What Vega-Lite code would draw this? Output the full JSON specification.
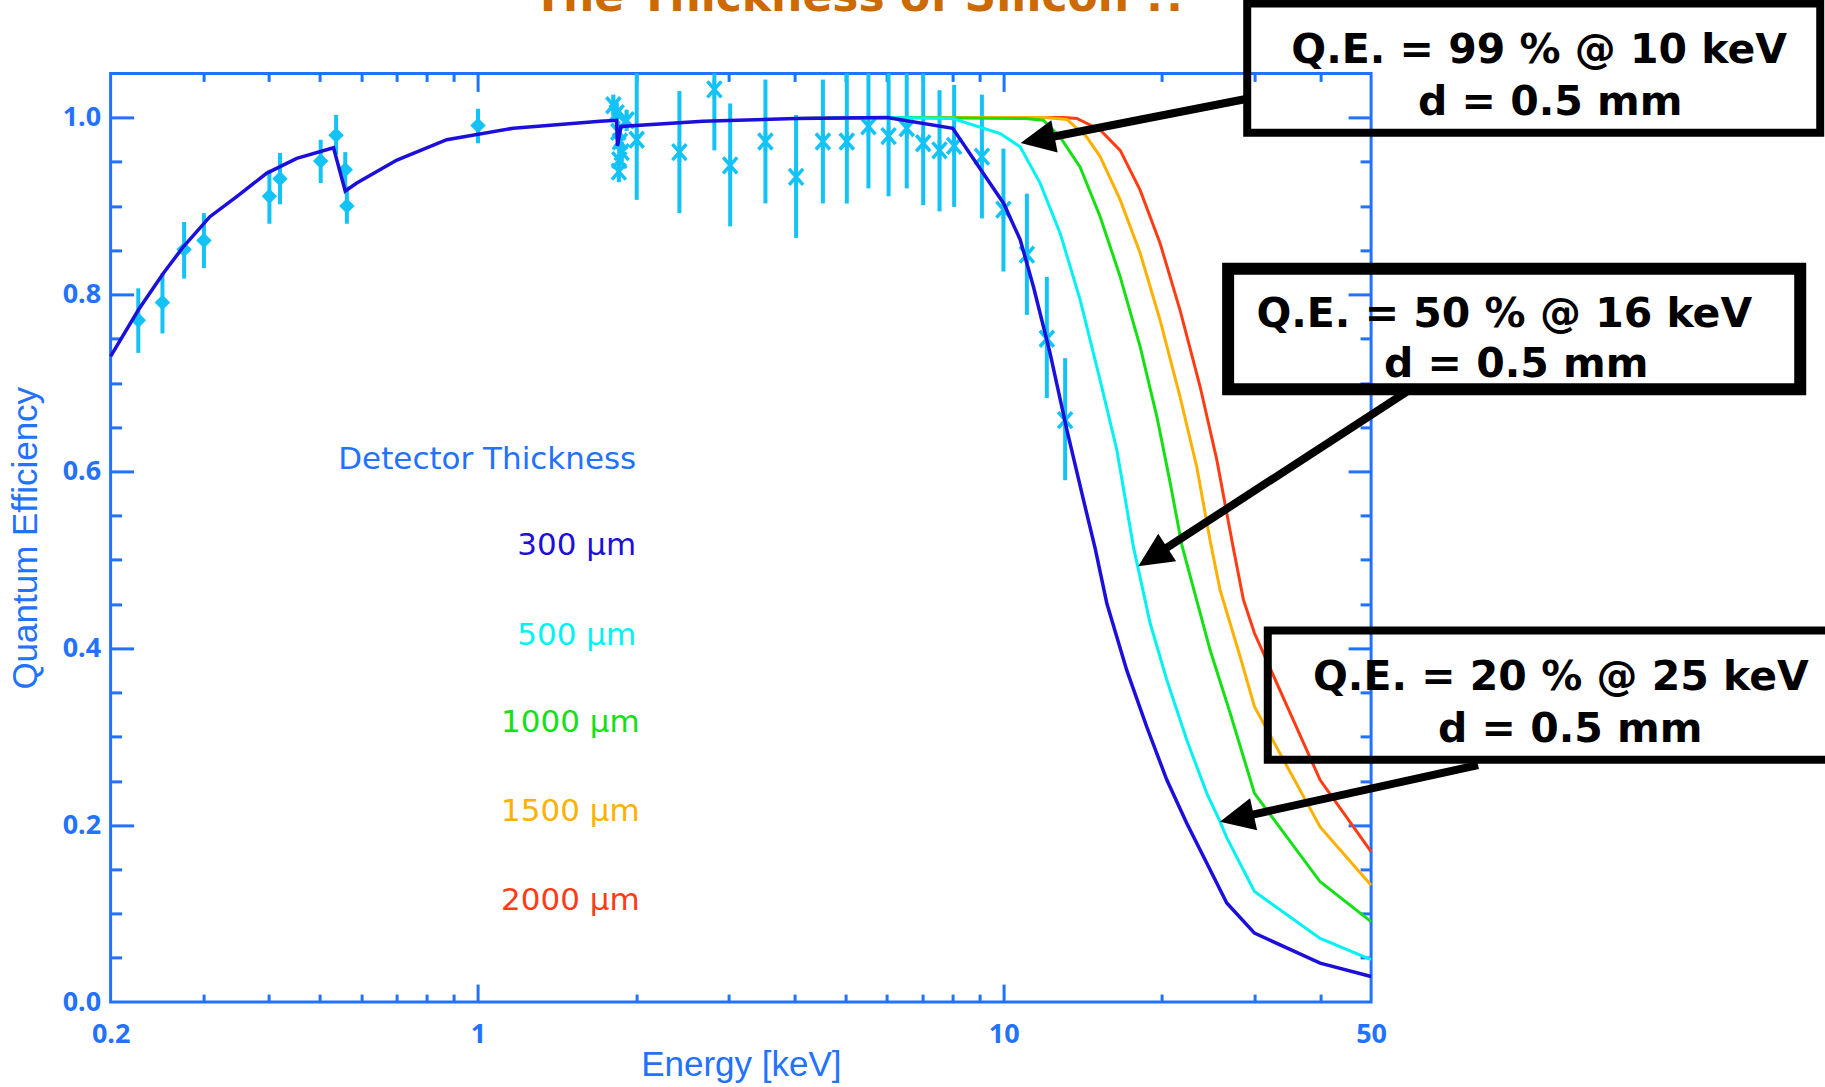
{
  "$schema": "https://vega.github.io/schema/vega-lite/v6.json",
  "width": 1260.5,
  "height": 928.7,
  "autosize": {"type": "none"},
  "padding": {"left": 110.6, "top": 73.4, "right": 454, "bottom": 85},
  "background": "white",
  "config": {
    "view": {"stroke": "#2272ff", "strokeWidth": 3},
    "axis": {
      "grid": false, "domain": false,
      "tickColor": "#2272ff", "tickWidth": 3,
      "labelColor": "#2272ff", "titleColor": "#2272ff",
      "labelFont": "Noto Sans", "labelFontWeight": "bold", "labelFontSize": 27,
      "titleFont": "Liberation Sans", "titleFontSize": 35, "titleFontWeight": "normal",
      "labelFlush": false, "labelOverlap": false, "labelBound": false
    }
  },
  "datasets": {
    "curves": [
      {"t":"300","e":0.2,"q":0.730},{"t":"300","e":0.2258,"q":0.7825},{"t":"300","e":0.252,"q":0.824},{"t":"300","e":0.275,"q":0.854},
      {"t":"300","e":0.309,"q":0.888},{"t":"300","e":0.348,"q":0.911},{"t":"300","e":0.396,"q":0.937},{"t":"300","e":0.452,"q":0.954},
      {"t":"300","e":0.531,"q":0.966},{"t":"300","e":0.559,"q":0.917},{"t":"300","e":0.588,"q":0.926},{"t":"300","e":0.701,"q":0.952},
      {"t":"300","e":0.872,"q":0.975},{"t":"300","e":1.167,"q":0.988},{"t":"300","e":1.707,"q":0.996},{"t":"300","e":1.835,"q":0.997},
      {"t":"300","e":1.842,"q":0.968},{"t":"300","e":1.87,"q":0.990},{"t":"300","e":2.68,"q":0.996},{"t":"300","e":4.03,"q":0.999},
      {"t":"300","e":6.0,"q":1.0},{"t":"300","e":8.0,"q":0.988},{"t":"300","e":10.0,"q":0.903},{"t":"300","e":10.75,"q":0.862},
      {"t":"300","e":11.39,"q":0.809},{"t":"300","e":12.25,"q":0.734},{"t":"300","e":13.19,"q":0.647},{"t":"300","e":14.18,"q":0.568},
      {"t":"300","e":14.93,"q":0.513},{"t":"300","e":15.71,"q":0.451},{"t":"300","e":17.15,"q":0.375},{"t":"300","e":18.72,"q":0.311},
      {"t":"300","e":20.44,"q":0.251},{"t":"300","e":22.31,"q":0.202},{"t":"300","e":24.35,"q":0.157},{"t":"300","e":26.57,"q":0.112},
      {"t":"300","e":30,"q":0.078},{"t":"300","e":40,"q":0.044},{"t":"300","e":50,"q":0.029},

      {"t":"500","e":4.03,"q":0.999},{"t":"500","e":6.0,"q":1.0},{"t":"500","e":8.0,"q":0.999},{"t":"500","e":9.85,"q":0.982},
      {"t":"500","e":10.75,"q":0.967},{"t":"500","e":11.73,"q":0.926},{"t":"500","e":12.81,"q":0.869},{"t":"500","e":13.98,"q":0.794},
      {"t":"500","e":15.26,"q":0.703},{"t":"500","e":16.42,"q":0.624},{"t":"500","e":17.65,"q":0.515},{"t":"500","e":19.0,"q":0.428},
      {"t":"500","e":20.44,"q":0.364},{"t":"500","e":22.31,"q":0.296},{"t":"500","e":24.35,"q":0.236},{"t":"500","e":25.8,"q":0.204},
      {"t":"500","e":26.57,"q":0.186},{"t":"500","e":30,"q":0.125},{"t":"500","e":40,"q":0.072},{"t":"500","e":50,"q":0.048},

      {"t":"1000","e":4.03,"q":0.999},{"t":"1000","e":6.0,"q":1.0},{"t":"1000","e":11.0,"q":0.999},{"t":"1000","e":11.9,"q":0.997},
      {"t":"1000","e":12.81,"q":0.978},{"t":"1000","e":13.98,"q":0.944},{"t":"1000","e":15.26,"q":0.888},{"t":"1000","e":16.66,"q":0.820},
      {"t":"1000","e":18.18,"q":0.741},{"t":"1000","e":19.56,"q":0.662},{"t":"1000","e":20.74,"q":0.587},{"t":"1000","e":21.82,"q":0.517},
      {"t":"1000","e":22.96,"q":0.468},{"t":"1000","e":24.7,"q":0.398},{"t":"1000","e":26.96,"q":0.327},{"t":"1000","e":30,"q":0.236},
      {"t":"1000","e":40,"q":0.136},{"t":"1000","e":50,"q":0.091},

      {"t":"1500","e":4.03,"q":0.999},{"t":"1500","e":6.0,"q":1.0},{"t":"1500","e":12.0,"q":1.0},{"t":"1500","e":13.19,"q":0.998},
      {"t":"1500","e":14.39,"q":0.978},{"t":"1500","e":15.26,"q":0.956},{"t":"1500","e":16.66,"q":0.907},{"t":"1500","e":18.18,"q":0.847},
      {"t":"1500","e":19.84,"q":0.771},{"t":"1500","e":21.66,"q":0.684},{"t":"1500","e":23.3,"q":0.605},{"t":"1500","e":24.7,"q":0.522},
      {"t":"1500","e":25.8,"q":0.466},{"t":"1500","e":28.16,"q":0.391},{"t":"1500","e":30,"q":0.334},{"t":"1500","e":40,"q":0.198},
      {"t":"1500","e":50,"q":0.132},

      {"t":"2000","e":4.03,"q":0.999},{"t":"2000","e":6.0,"q":1.0},{"t":"2000","e":13.0,"q":1.0},{"t":"2000","e":13.78,"q":0.999},
      {"t":"2000","e":15.26,"q":0.986},{"t":"2000","e":16.66,"q":0.963},{"t":"2000","e":18.18,"q":0.918},{"t":"2000","e":19.84,"q":0.858},
      {"t":"2000","e":21.66,"q":0.782},{"t":"2000","e":23.64,"q":0.696},{"t":"2000","e":25.44,"q":0.613},{"t":"2000","e":27.35,"q":0.513},
      {"t":"2000","e":28.58,"q":0.455},{"t":"2000","e":30,"q":0.417},{"t":"2000","e":40,"q":0.251},{"t":"2000","e":50,"q":0.170}
    ],
    "points": [
      {"kind":"d","e":0.2258,"q":0.771,"lo":0.734,"hi":0.807},
      {"kind":"d","e":0.251,"q":0.791,"lo":0.756,"hi":0.824},
      {"kind":"d","e":0.276,"q":0.851,"lo":0.818,"hi":0.882},
      {"kind":"d","e":0.301,"q":0.861,"lo":0.830,"hi":0.892},
      {"kind":"d","e":0.401,"q":0.911,"lo":0.880,"hi":0.941},
      {"kind":"d","e":0.420,"q":0.931,"lo":0.902,"hi":0.960},
      {"kind":"d","e":0.502,"q":0.951,"lo":0.926,"hi":0.975},
      {"kind":"d","e":0.537,"q":0.980,"lo":0.958,"hi":1.003},
      {"kind":"d","e":0.559,"q":0.941,"lo":0.920,"hi":0.961},
      {"kind":"d","e":0.563,"q":0.900,"lo":0.880,"hi":0.922},
      {"kind":"d","e":1.0,"q":0.991,"lo":0.971,"hi":1.010},
      {"kind":"x","e":1.809,"q":1.014,"lo":1.002,"hi":1.026},
      {"kind":"x","e":1.836,"q":1.005,"lo":0.993,"hi":1.017},
      {"kind":"x","e":1.917,"q":0.997,"lo":0.985,"hi":1.009},
      {"kind":"x","e":1.849,"q":0.984,"lo":0.972,"hi":0.996},
      {"kind":"x","e":1.862,"q":0.973,"lo":0.961,"hi":0.985},
      {"kind":"x","e":1.876,"q":0.961,"lo":0.949,"hi":0.973},
      {"kind":"x","e":1.857,"q":0.952,"lo":0.940,"hi":0.964},
      {"kind":"x","e":1.853,"q":0.939,"lo":0.927,"hi":0.951},
      {"kind":"x","e":2.004,"q":0.975,"lo":0.907,"hi":1.05},
      {"kind":"x","e":2.416,"q":0.961,"lo":0.892,"hi":1.030},
      {"kind":"x","e":2.816,"q":1.032,"lo":0.963,"hi":1.05},
      {"kind":"x","e":3.018,"q":0.946,"lo":0.877,"hi":1.016},
      {"kind":"x","e":3.522,"q":0.973,"lo":0.903,"hi":1.043},
      {"kind":"x","e":4.028,"q":0.933,"lo":0.864,"hi":1.003},
      {"kind":"x","e":4.53,"q":0.973,"lo":0.903,"hi":1.043},
      {"kind":"x","e":5.03,"q":0.973,"lo":0.903,"hi":1.05},
      {"kind":"x","e":5.53,"q":0.990,"lo":0.920,"hi":1.05},
      {"kind":"x","e":6.04,"q":0.979,"lo":0.911,"hi":1.05},
      {"kind":"x","e":6.54,"q":0.988,"lo":0.920,"hi":1.05},
      {"kind":"x","e":7.03,"q":0.971,"lo":0.901,"hi":1.05},
      {"kind":"x","e":7.55,"q":0.963,"lo":0.894,"hi":1.031},
      {"kind":"x","e":8.05,"q":0.968,"lo":0.899,"hi":1.037},
      {"kind":"x","e":9.09,"q":0.956,"lo":0.886,"hi":1.026},
      {"kind":"x","e":9.99,"q":0.896,"lo":0.826,"hi":0.965},
      {"kind":"x","e":11.07,"q":0.845,"lo":0.777,"hi":0.914},
      {"kind":"x","e":12.08,"q":0.750,"lo":0.683,"hi":0.820},
      {"kind":"x","e":13.09,"q":0.658,"lo":0.590,"hi":0.728}
    ],
    "legend": [
      {"e":2.0,"q":0.603,"label":"Detector Thickness","t":"head"},
      {"e":2.0,"q":0.505,"label":"300 μm","t":"300"},
      {"e":2.0,"q":0.404,"label":"500 μm","t":"500"},
      {"e":2.03,"q":0.305,"label":"1000 μm","t":"1000"},
      {"e":2.03,"q":0.205,"label":"1500 μm","t":"1500"},
      {"e":2.03,"q":0.104,"label":"2000 μm","t":"2000"}
    ],
    "boxes": [
      {"b":1,"e":29.06,"e2":357.6,"q":1.129,"q2":0.983},
      {"b":2,"e":26.73,"e2":327.6,"q":0.829,"q2":0.693},
      {"b":3,"e":31.8,"e2":381.8,"q":0.420,"q2":0.274}
    ],
    "boxtext": [
      {"e":104.4,"q":1.0614,"label":"Q.E. = 99 % @ 10 keV"},
      {"e":109.6,"q":1.0029,"label":"d = 0.5 mm"},
      {"e":89.6,"q":0.7629,"label":"Q.E. = 50 % @ 16 keV"},
      {"e":94.4,"q":0.7071,"label":"d = 0.5 mm"},
      {"e":114.8,"q":0.3529,"label":"Q.E. = 20 % @ 25 keV"},
      {"e":119.6,"q":0.2944,"label":"d = 0.5 mm"}
    ],
    "arrows": [
      {"a":1,"e":28.9,"q":1.021,"e2":11.6,"q2":0.975},
      {"a":2,"e":58.8,"q":0.691,"e2":19.21,"q2":0.5034},
      {"a":3,"e":79.9,"q":0.268,"e2":27.76,"q2":0.2081}
    ]
  },
  "resolve": {"axis": {"x": "independent", "y": "independent"}},
  "layer": [
    {
      "data": {"name": "points"},
      "mark": {"type": "rule", "strokeWidth": 4, "color": "#14c3f5"},
      "encoding": {
        "x": {"field": "e", "type": "quantitative", "scale": {"type": "log", "domain": [0.2, 50], "nice": false},
              "axis": {"orient": "bottom", "values": [0.2, 1, 10, 50], "format": "~g", "ticks": false, "labelPadding": 19, "title": "Energy [keV]", "titlePadding": 0}},
        "y": {"field": "lo", "type": "quantitative", "scale": {"domain": [0, 1.05], "nice": false, "zero": false},
              "axis": {"orient": "left", "values": [0, 0.2, 0.4, 0.6, 0.8, 1.0], "format": ".1f", "ticks": false, "labelPadding": 10, "title": "Quantum Efficiency", "titlePadding": 19}},
        "y2": {"field": "hi"}
      }
    },
    {
      "data": {"name": "points"},
      "transform": [{"filter": "datum.kind === 'd'"}],
      "mark": {"type": "point", "shape": "diamond", "filled": true, "size": 240, "opacity": 1, "color": "#14c3f5"},
      "encoding": {
        "x": {"field": "e", "type": "quantitative", "scale": {"type": "log", "domain": [0.2, 50], "nice": false},
              "axis": {"orient": "bottom", "values": [0.3, 0.4, 0.5, 0.6, 0.7, 0.8, 0.9, 2, 3, 4, 5, 6, 7, 8, 9, 20, 30, 40], "labels": false, "tickSize": 8, "offset": -8, "title": null}},
        "y": {"field": "q", "type": "quantitative", "scale": {"domain": [0, 1.05], "nice": false, "zero": false},
              "axis": {"orient": "left", "values": [0.05, 0.1, 0.15, 0.25, 0.3, 0.35, 0.45, 0.5, 0.55, 0.65, 0.7, 0.75, 0.85, 0.9, 0.95], "labels": false, "tickSize": 11, "offset": -11, "title": null}}
      }
    },
    {
      "data": {"name": "points"},
      "transform": [{"filter": "datum.kind === 'x'"}],
      "mark": {"type": "point", "shape": "M-0.7,-0.8L0.7,0.8M-0.7,0.8L0.7,-0.8M0,-1L0,1", "filled": false, "size": 400, "strokeWidth": 3.5, "opacity": 1, "color": "#14c3f5"},
      "encoding": {
        "x": {"field": "e", "type": "quantitative", "scale": {"type": "log", "domain": [0.2, 50], "nice": false}, "axis": null},
        "y": {"field": "q", "type": "quantitative", "scale": {"domain": [0, 1.05], "nice": false, "zero": false}, "axis": null}
      }
    },
    {
      "data": {"name": "curves"},
      "transform": [{"filter": "datum.t === '2000'"}],
      "mark": {"type": "line", "strokeWidth": 3},
      "encoding": {
        "x": {"field": "e", "type": "quantitative", "scale": {"type": "log", "domain": [0.2, 50], "nice": false},
              "axis": {"orient": "top", "values": [1, 10], "labels": false, "tickSize": 18, "offset": -18, "title": null}},
        "y": {"field": "q", "type": "quantitative", "scale": {"domain": [0, 1.05], "nice": false, "zero": false},
              "axis": {"orient": "right", "values": [0.2, 0.4, 0.6, 0.8, 1.0], "labels": false, "tickSize": 23, "offset": -23, "title": null}},
        "color": {"field": "t", "type": "nominal", "legend": null,
                  "scale": {"domain": ["head", "300", "500", "1000", "1500", "2000"], "range": ["#2272ff", "#1c0fdc", "#00f2f2", "#14e014", "#ffb000", "#ff3c14"]}}
      }
    },
    {
      "data": {"name": "curves"},
      "transform": [{"filter": "datum.t === '1500'"}],
      "mark": {"type": "line", "strokeWidth": 3},
      "encoding": {
        "x": {"field": "e", "type": "quantitative", "scale": {"type": "log", "domain": [0.2, 50], "nice": false},
              "axis": {"orient": "top", "values": [0.3, 0.4, 0.5, 0.6, 0.7, 0.8, 0.9, 2, 3, 4, 5, 6, 7, 8, 9, 20, 30, 40], "labels": false, "tickSize": 8, "offset": -8, "title": null}},
        "y": {"field": "q", "type": "quantitative", "scale": {"domain": [0, 1.05], "nice": false, "zero": false},
              "axis": {"orient": "right", "values": [0.05, 0.1, 0.15, 0.25, 0.3, 0.35, 0.45, 0.5, 0.55, 0.65, 0.7, 0.75, 0.85, 0.9, 0.95], "labels": false, "tickSize": 11, "offset": -11, "title": null}},
        "color": {"field": "t", "type": "nominal", "legend": null}
      }
    },
    {
      "data": {"name": "curves"},
      "transform": [{"filter": "datum.t === '1000'"}],
      "mark": {"type": "line", "strokeWidth": 3},
      "encoding": {
        "x": {"field": "e", "type": "quantitative", "scale": {"type": "log", "domain": [0.2, 50], "nice": false}, "axis": null},
        "y": {"field": "q", "type": "quantitative", "scale": {"domain": [0, 1.05], "nice": false, "zero": false}, "axis": null},
        "color": {"field": "t", "type": "nominal", "legend": null}
      }
    },
    {
      "data": {"name": "curves"},
      "transform": [{"filter": "datum.t === '500'"}],
      "mark": {"type": "line", "strokeWidth": 3},
      "encoding": {
        "x": {"field": "e", "type": "quantitative", "scale": {"type": "log", "domain": [0.2, 50], "nice": false}, "axis": null},
        "y": {"field": "q", "type": "quantitative", "scale": {"domain": [0, 1.05], "nice": false, "zero": false}, "axis": null},
        "color": {"field": "t", "type": "nominal", "legend": null}
      }
    },
    {
      "data": {"name": "curves"},
      "transform": [{"filter": "datum.t === '300'"}],
      "mark": {"type": "line", "strokeWidth": 3.5},
      "encoding": {
        "x": {"field": "e", "type": "quantitative", "scale": {"type": "log", "domain": [0.2, 50], "nice": false},
              "axis": {"orient": "bottom", "values": [1, 10], "labels": false, "tickSize": 18, "offset": -18, "title": null}},
        "y": {"field": "q", "type": "quantitative", "scale": {"domain": [0, 1.05], "nice": false, "zero": false},
              "axis": {"orient": "left", "values": [0.2, 0.4, 0.6, 0.8, 1.0], "labels": false, "tickSize": 23, "offset": -23, "title": null}},
        "color": {"field": "t", "type": "nominal", "legend": null}
      }
    },
    {
      "data": {"name": "legend"},
      "mark": {"type": "text", "align": "right", "baseline": "alphabetic", "font": "DejaVu Sans", "fontSize": 31},
      "encoding": {
        "x": {"field": "e", "type": "quantitative", "scale": {"type": "log", "domain": [0.2, 50], "nice": false}, "axis": null},
        "y": {"field": "q", "type": "quantitative", "scale": {"domain": [0, 1.05], "nice": false, "zero": false}, "axis": null},
        "text": {"field": "label"},
        "color": {"field": "t", "type": "nominal", "legend": null}
      }
    },
    {
      "data": {"values": [{"e": 5.3, "q": 1.12, "label": "The Thickness of Silicon  !!"}]},
      "mark": {"type": "text", "align": "center", "baseline": "alphabetic", "font": "DejaVu Sans", "fontWeight": "bold", "fontSize": 44, "color": "#cc6a00"},
      "encoding": {
        "x": {"field": "e", "type": "quantitative", "scale": {"type": "log", "domain": [0.2, 50], "nice": false}, "axis": null},
        "y": {"field": "q", "type": "quantitative", "scale": {"domain": [0, 1.05], "nice": false, "zero": false}, "axis": null},
        "text": {"field": "label"}
      }
    },
    {
      "data": {"name": "boxes"},
      "transform": [{"filter": "datum.b !== 2"}],
      "mark": {"type": "rect", "filled": false, "color": "black", "strokeWidth": 8, "strokeJoin": "miter"},
      "encoding": {
        "x": {"field": "e", "type": "quantitative", "scale": {"type": "log", "domain": [0.2, 50], "nice": false}, "axis": null},
        "x2": {"field": "e2"},
        "y": {"field": "q", "type": "quantitative", "scale": {"domain": [0, 1.05], "nice": false, "zero": false}, "axis": null},
        "y2": {"field": "q2"}
      }
    },
    {
      "data": {"name": "boxes"},
      "transform": [{"filter": "datum.b === 2"}],
      "mark": {"type": "rect", "filled": false, "color": "black", "strokeWidth": 12, "strokeJoin": "miter"},
      "encoding": {
        "x": {"field": "e", "type": "quantitative", "scale": {"type": "log", "domain": [0.2, 50], "nice": false}, "axis": null},
        "x2": {"field": "e2"},
        "y": {"field": "q", "type": "quantitative", "scale": {"domain": [0, 1.05], "nice": false, "zero": false}, "axis": null},
        "y2": {"field": "q2"}
      }
    },
    {
      "data": {"name": "arrows"},
      "mark": {"type": "rule", "color": "black", "strokeWidth": 8, "strokeCap": "butt"},
      "encoding": {
        "x": {"field": "e", "type": "quantitative", "scale": {"type": "log", "domain": [0.2, 50], "nice": false}, "axis": null},
        "x2": {"field": "e2"},
        "y": {"field": "q", "type": "quantitative", "scale": {"domain": [0, 1.05], "nice": false, "zero": false}, "axis": null},
        "y2": {"field": "q2"}
      }
    },
    {
      "data": {"name": "arrows"},
      "transform": [{"filter": "datum.a === 1"}],
      "mark": {"type": "point", "shape": "M0,-1L0.95,1L-0.95,1Z", "filled": true, "size": 1190, "opacity": 1, "color": "black", "angle": 258.8},
      "encoding": {
        "x": {"field": "e2", "type": "quantitative", "scale": {"type": "log", "domain": [0.2, 50], "nice": false}, "axis": null},
        "y": {"field": "q2", "type": "quantitative", "scale": {"domain": [0, 1.05], "nice": false, "zero": false}, "axis": null}
      }
    },
    {
      "data": {"name": "arrows"},
      "transform": [{"filter": "datum.a === 2"}],
      "mark": {"type": "point", "shape": "M0,-1L0.95,1L-0.95,1Z", "filled": true, "size": 1190, "opacity": 1, "color": "black", "angle": 237.0},
      "encoding": {
        "x": {"field": "e2", "type": "quantitative", "scale": {"type": "log", "domain": [0.2, 50], "nice": false}, "axis": null},
        "y": {"field": "q2", "type": "quantitative", "scale": {"domain": [0, 1.05], "nice": false, "zero": false}, "axis": null}
      }
    },
    {
      "data": {"name": "arrows"},
      "transform": [{"filter": "datum.a === 3"}],
      "mark": {"type": "point", "shape": "M0,-1L0.95,1L-0.95,1Z", "filled": true, "size": 1190, "opacity": 1, "color": "black", "angle": 257.5},
      "encoding": {
        "x": {"field": "e2", "type": "quantitative", "scale": {"type": "log", "domain": [0.2, 50], "nice": false}, "axis": null},
        "y": {"field": "q2", "type": "quantitative", "scale": {"domain": [0, 1.05], "nice": false, "zero": false}, "axis": null}
      }
    },
    {
      "data": {"name": "boxtext"},
      "mark": {"type": "text", "align": "center", "baseline": "alphabetic", "font": "DejaVu Sans", "fontWeight": "bold", "fontSize": 41, "color": "black"},
      "encoding": {
        "x": {"field": "e", "type": "quantitative", "scale": {"type": "log", "domain": [0.2, 50], "nice": false}, "axis": null},
        "y": {"field": "q", "type": "quantitative", "scale": {"domain": [0, 1.05], "nice": false, "zero": false}, "axis": null},
        "text": {"field": "label"}
      }
    }
  ]
}
